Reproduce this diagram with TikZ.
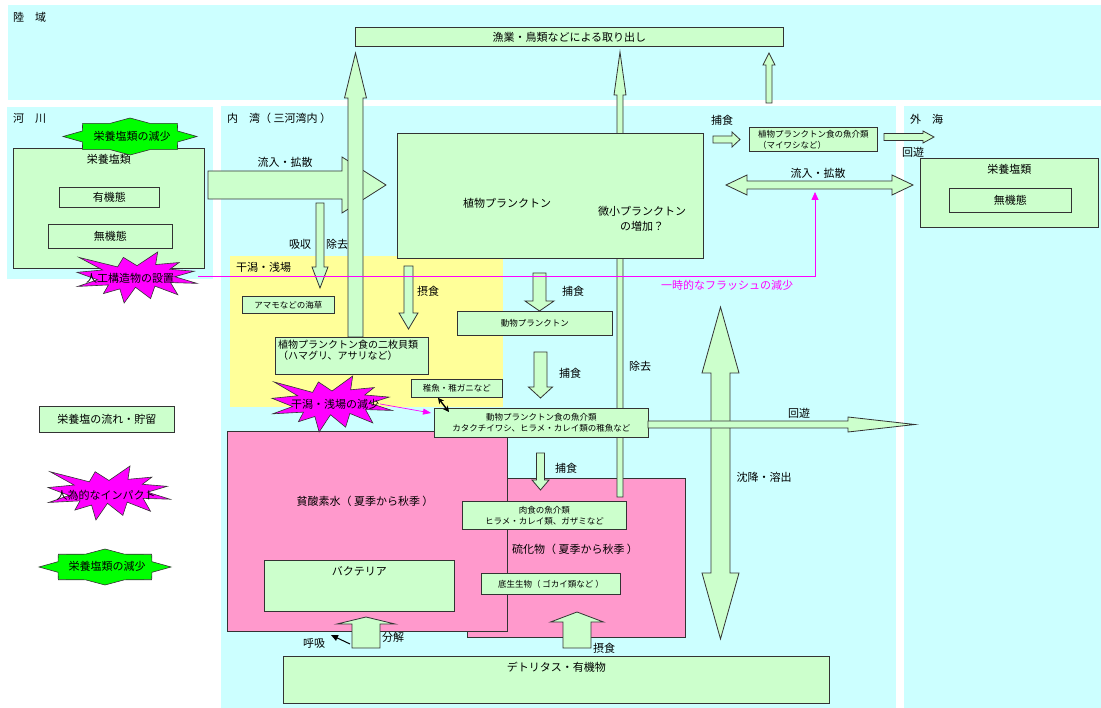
\documentclass[tikz,border=0pt]{standalone}
\usepackage{fontspec}
\setmainfont{Noto Sans CJK JP}
\usetikzlibrary{arrows.meta,positioning}

\definecolor{bgcyan}{HTML}{CCFFFF}
\definecolor{bgyellow}{HTML}{FFFF99}
\definecolor{bgpink}{HTML}{FF99CC}
\definecolor{boxgreen}{HTML}{CCFFCC}
\definecolor{impact}{HTML}{FF00FF}
\definecolor{cutgreen}{HTML}{00FF00}

% mũi tên khối: dọc và ngang
\newcommand{\vblockarrow}[6]{%
  \filldraw[blockarrow] (#1-#5,#2) -- (#1-#5,#3) -- (#1-#6,#3) -- (#1,#4)
    -- (#1+#6,#3) -- (#1+#5,#3) -- (#1+#5,#2) -- cycle;}
\newcommand{\hblockarrow}[6]{%
  \filldraw[blockarrow] (#2,#1-#5) -- (#3,#1-#5) -- (#3,#1-#6) -- (#4,#1)
    -- (#3,#1+#6) -- (#3,#1+#5) -- (#2,#1+#5) -- cycle;}
% hình nổ
\newcommand{\boomshape}[4]{%
  \filldraw[impactfill,shift={(#1,#2)},xscale=#3/21.6,yscale=#4/21.6]
    (10.8,5.8) -- (14.522,0) -- (14.155,5.325) -- (18.38,4.457) -- (16.702,7.315)
    -- (21.097,8.137) -- (17.607,10.475) -- (21.6,13.29) -- (16.837,12.942)
    -- (18.145,18.095) -- (14.02,14.457) -- (13.247,19.737) -- (10.532,14.935)
    -- (8.485,21.6) -- (7.715,15.627) -- (4.762,17.617) -- (5.667,13.937)
    -- (0.135,14.587) -- (3.722,11.775) -- (0,8.615) -- (4.627,7.617)
    -- (0.37,2.295) -- (7.312,6.32) -- (8.352,2.295) -- cycle;}
% ngôi sao 8 cánh
\newcommand{\sealshape}[4]{%
  \filldraw[cutfill] plot[samples at={0,22.5,...,337.5}]
    ({#1+#3*(0.885+0.115*cos(8*\x))*cos(\x)},{#2+#4*(0.885+0.115*cos(8*\x))*sin(\x)}) -- cycle;}

\begin{document}
\begin{tikzpicture}[x=1pt,y=-1pt,
    gbox/.style={draw=black!80,fill=boxgreen,line width=0.8pt,anchor=north west,inner sep=0pt},
    pinkbox/.style={draw=black!80,fill=bgpink,line width=0.8pt,anchor=north west,inner sep=0pt},
    sz/.style 2 args={minimum width=#1pt,minimum height=#2pt},
    blockarrow/.style={draw=black!80,fill=boxgreen,line width=0.8pt},
    txt/.style={font=\fontsize{11}{13}\selectfont,inner sep=1pt},
    midtxt/.style={font=\fontsize{10}{11}\selectfont,inner sep=1pt},
    smalltxt/.style={font=\fontsize{8.5}{11}\selectfont,inner sep=1pt},
    impactfill/.style={draw=black!80,fill=impact,line width=0.6pt},
    cutfill/.style={draw=black!80,fill=cutgreen,line width=0.6pt},
    flush/.style={draw=impact,line width=0.8pt,-{Triangle[width=7pt,length=8pt]}}]

\useasboundingbox (0,0) rectangle (1101,708);

% Vẽ nền các vùng
\foreach \a/\b/\c/\d in {8/5/1101/100, 7/107/213/279, 221/106/896/708, 904/106/1101/708}
  \fill[bgcyan] (\a,\b) rectangle (\c,\d);
\fill[bgyellow] (230,256) rectangle (503,407);

\node[txt,anchor=west] (landlbl) at (12,17) {陸　域};
\node[txt,anchor=west] (riverlbl) at (12,118) {河　川};
\node[txt,anchor=west] (baylbl) at (226,118) {内　湾（ 三河湾内 ）};
\node[txt,anchor=west] (sealbl) at (909,119) {外　海};
\node[txt,anchor=west] (tidallbl) at (235,267) {干潟・浅場};

% Vùng màu hồng
\node[pinkbox,sz={218}{159}] (sulfide) at (467,478) {};
\node[pinkbox,sz={280}{200}] (anoxic) at (227,431) {};
\node[txt] (anoxiclbl) at (365,501) {貧酸素水（ 夏季から秋季 ）};
\node[txt] (sulfidelbl) at (575,549) {硫化物（ 夏季から秋季 ）};

% Mũi tên lớn
\hblockarrow{185}{208}{342}{386}{14}{28}
\vblockarrow{355.5}{337}{98}{53}{7.5}{11}
% Cột loại bỏ
\vblockarrow{620}{497}{95}{52}{3}{6}

% Các hộp
\node[gbox,sz={428}{19},txt] (catch) at (355,27) {漁業・鳥類などによる取り出し};
\node[gbox,sz={191}{120}] (rivnut) at (13,148) {};
\node[txt,below=5pt of rivnut.north] (rivnutlbl) {栄養塩類};
\node[gbox,sz={100}{20},txt] (rivorg) at (59,187) {有機態};
\node[gbox,sz={124}{24},txt] (rivinorg) at (48,224) {無機態};
\node[gbox,sz={178}{69}] (seanut) at (920,158) {};
\node[txt,below=5pt of seanut.north] (seanutlbl) {栄養塩類};
\node[gbox,sz={122}{24},txt] (seainorg) at (949,188) {無機態};
\node[gbox,sz={128}{24},smalltxt,align=left] (sardine) at (749,127) {植物プランクトン食の魚介類\\（マイワシなど）};
\node[gbox,sz={92}{17},smalltxt] (eelgrass) at (242,296) {アマモなどの海草};
\node[gbox,sz={153}{37}] (clam) at (275,337) {};
\node[midtxt,align=left,anchor=north west] (clamlbl) at (277,339) {植物プランクトン食の二枚貝類\\（ハマグリ、アサリなど）};
\node[gbox,sz={91}{18},smalltxt] (juv) at (411,379) {稚魚・稚ガニなど};
\node[gbox,sz={155}{24},smalltxt] (zoo) at (457,311) {動物プランクトン};
\node[gbox,sz={214}{29},smalltxt,align=center] (zfish) at (434,408) {動物プランクトン食の魚介類\\カタクチイワシ、ヒラメ・カレイ類の稚魚など};
\node[gbox,sz={164}{28},smalltxt,align=center] (carniv) at (462,501) {肉食の魚介類\\ヒラメ・カレイ類、ガザミなど};
\node[gbox,sz={190}{51}] (bact) at (264,560) {};
\node[txt,below=5pt of bact.north] (bactlbl) {バクテリア};
\node[gbox,sz={139}{21},smalltxt] (benthos) at (481,573) {底生生物（ ゴカイ類など ）};
\node[gbox,sz={546}{47}] (detritus) at (283,656) {};
\node[txt,below=4.5pt of detritus.north] (detrituslbl) {デトリタス・有機物};
\node[gbox,sz={135}{26},txt] (legend) at (39,406) {栄養塩の流れ・貯留};
\node[gbox,sz={306}{125}] (phyto) at (397,133) {};
\node[txt] (phytolbl) at (507,203) {植物プランクトン};
\node[font=\fontsize{11}{15}\selectfont,align=center] (microlbl) at (642,218.5) {微小プランクトン\\の増加？};

% Mũi tên khối nhỏ
\foreach \x/\ya/\yb/\yc/\s/\h in {320/203/267/288/4/8, 408.5/266/313/329/4.5/9.5,
    539.5/273/301/311/6.5/14.5, 540.5/352/387/398/6.5/12, 540.5/453/480/490/4/8.5,
    769/103/65/53/3/6, 366/648/624/617/14/29, 577/648/622/612/14/26.5}
  \vblockarrow{\x}{\ya}{\yb}{\yc}{\s}{\h};
\filldraw[blockarrow] (720.5,307) -- (739,373) -- (730,373) -- (730,573) -- (739,573)
  -- (720.5,639) -- (702,573) -- (711,573) -- (711,373) -- (702,373) -- cycle;
\hblockarrow{424.5}{648}{848}{915}{3.5}{7.5}
\hblockarrow{139.5}{713}{732}{740}{3.5}{7.5}
\hblockarrow{137}{884}{923}{934}{3.5}{6}
\filldraw[blockarrow] (726,185) -- (747,175) -- (747,181) -- (892,181) -- (892,175)
  -- (913,185) -- (892,195) -- (892,189) -- (747,189) -- (747,195) -- cycle;

% Nhãn mũi tên
\node[txt] (inflowlbl) at (285,162) {流入・拡散};
\node[txt] (absorblbl) at (300,244) {吸収};
\node[txt] (removelbl) at (337,244) {除去};
\node[txt] (grazelbl) at (428,291) {摂食};
\node[txt] (predlblA) at (573,291) {捕食};
\node[txt] (predlblB) at (570,373) {捕食};
\node[txt] (removelblB) at (640,366) {除去};
\node[txt] (migratelbl) at (799,413) {回遊};
\node[txt] (sinklbl) at (764,477) {沈降・溶出};
\node[txt] (predlblC) at (566,468) {捕食};
\node[txt] (resplbl) at (314,643) {呼吸};
\node[txt] (decomplbl) at (393,637) {分解};
\node[txt] (grazelblB) at (604,648) {摂食};
\node[txt] (predlblD) at (722,120) {捕食};
\node[txt] (migratelblB) at (913,152) {回遊};
\node[txt] (inflowlblB) at (818,173) {流入・拡散};

% Hình sao
\sealshape{130}{136.5}{67}{18.5}
\node[txt] (riverloss) at (132,136) {栄養塩類の減少};
\sealshape{105}{567}{66}{18}
\node[txt] (legendloss) at (107,566) {栄養塩類の減少};
\boomshape{77}{252}{120}{51}
\node[txt] (structstar) at (130,278) {人工構造物の設置};
\boomshape{272}{376}{120}{56}
\node[txt] (tidalstar) at (335,404) {干潟・浅場の減少};
\boomshape{48}{466}{122}{54}
\node[txt] (legendstar) at (106,495) {人為的なインパクト};

% Đường nối
\coordinate (flushstart) at (198,276);
\coordinate (flushend) at (815,192);
\draw[flush] (flushstart) -| (flushend);
\node[txt,text=impact] (flushlbl) at (727,285) {一時的なフラッシュの減少};
\draw[flush,line width=0.7pt,-{Triangle[width=6pt,length=8pt]}] (tidalstar.east) -- ([xshift=-3pt,yshift=-5pt]zfish.north west);
\draw[line width=1.4pt,{Stealth[length=6pt,width=6pt]}-{Stealth[length=6pt,width=6pt]}] ([xshift=27pt]juv.south west) -- ([xshift=15pt,yshift=-4pt]zfish.north west);
\coordinate (resp0) at (350,644);
\coordinate (resp1) at (331,635);
\draw[line width=1pt,-{Triangle[width=6pt,length=7pt]}] (resp0) -- (resp1);
\end{tikzpicture}
\end{document}
